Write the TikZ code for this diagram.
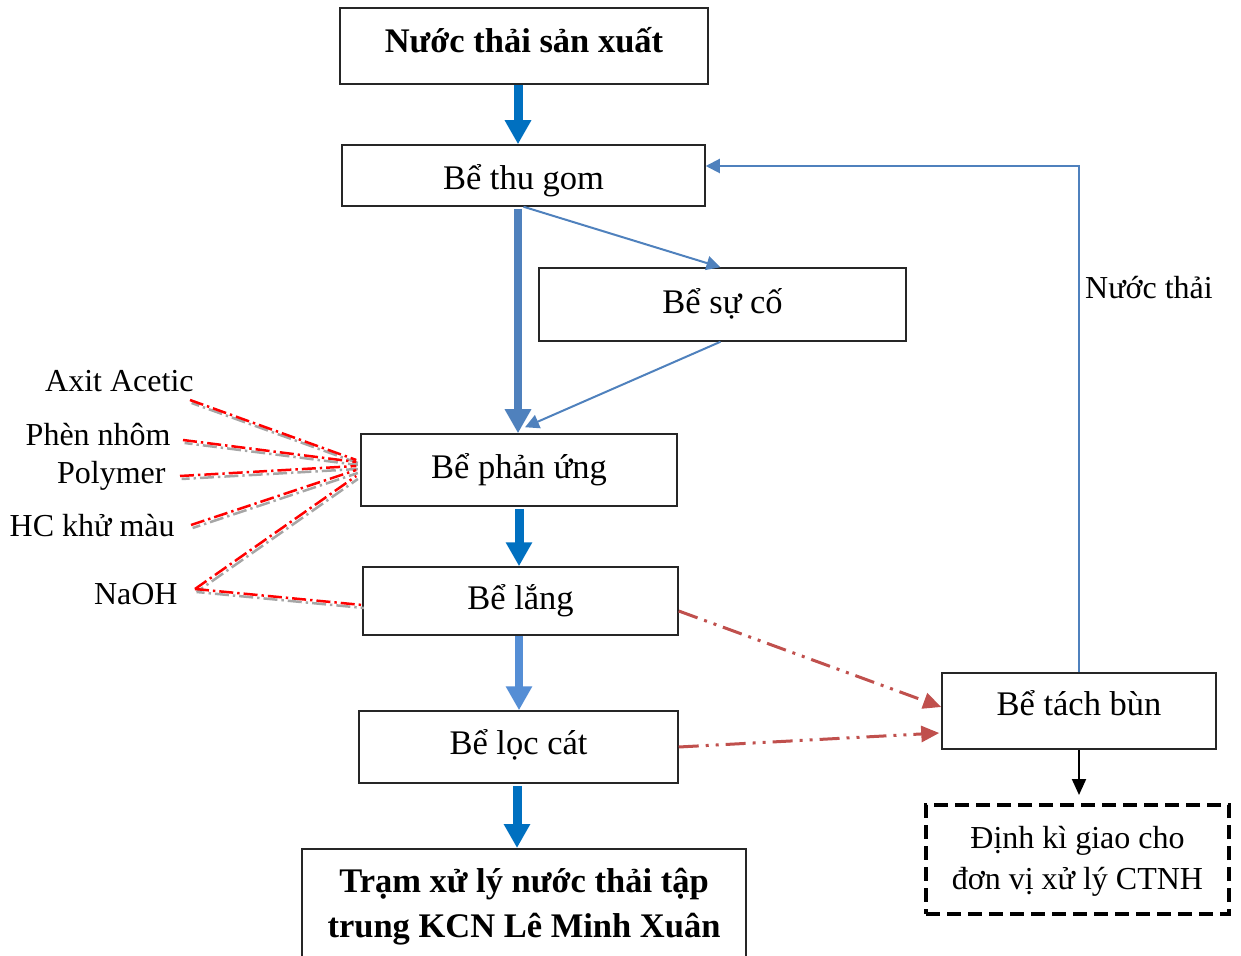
\documentclass[tikz,border=0pt]{standalone}
\usepackage{fontspec}
\setmainfont{Liberation Serif}
\usetikzlibrary{arrows.meta}
\definecolor{darkblue}{HTML}{0070C0}
\definecolor{steel}{HTML}{4F81BD}
\definecolor{lightsteel}{HTML}{558ED5}
\definecolor{redbrown}{HTML}{C0504D}
\definecolor{chemred}{HTML}{FF0000}
\definecolor{chemgray}{HTML}{A6A6A6}
\newcommand{\mvtext}[2]{\raisebox{#1}[\height][\depth]{#2}}
\begin{document}
\begin{tikzpicture}[x=0.5pt,y=-0.5pt,
  box/.style={draw=black!85, line width=0.75pt, rectangle, inner sep=2pt, align=center,
    font=\fontsize{17.25}{20}\selectfont},
  lbl/.style={inner sep=0pt, font=\fontsize{16}{19}\selectfont},
  bigarrow/.style={line width=4.5pt, -{Triangle[width=12.5pt,length=12pt]}},
  thinarrow/.style={steel, line width=1pt, -{Triangle[width=7pt,length=7pt]}},
  chemline/.style={chemred, line width=1.25pt, dash pattern=on 7pt off 2pt on 1.2pt off 2pt},
  chemshadow/.style={chemgray, line width=1.25pt, dash pattern=on 7pt off 2pt on 1.2pt off 2pt,
    dash phase=3pt, transform canvas={xshift=0.8pt,yshift=-1.5pt}},
  sludge/.style={redbrown, line width=1.5pt,
    dash pattern=on 10pt off 3.5pt on 1.5pt off 3.5pt on 1.5pt off 3.5pt,
    -{Triangle[width=8pt,length=9pt]}},
]
\useasboundingbox (0,0) rectangle (1241,956);
\clip (0,0) rectangle (1241,956);

% boxes
\node[box, minimum width=184pt, minimum height=38pt,
  font=\fontsize{17.25}{20}\selectfont\bfseries] (n1) at (524,46) {\mvtext{3pt}{Nước thải sản xuất}};
\node[box, minimum width=181.5pt, minimum height=30.5pt] (n2) at (523.5,175.5) {\mvtext{-2.5pt}{Bể thu gom}};
\node[box, minimum width=183.5pt, minimum height=36.5pt] (n3) at (722.5,304.5) {\mvtext{0.5pt}{Bể sự cố}};
\node[box, minimum width=158pt, minimum height=36pt] (n4) at (519,470) {Bể phản ứng};
\node[box, minimum width=157.5pt, minimum height=34pt] (n5) at (520.5,601) {Bể lắng};
\node[box, minimum width=159.5pt, minimum height=36pt] (n6) at (518.5,747) {\mvtext{1pt}{Bể lọc cát}};
\node[box, minimum width=222pt, minimum height=80pt, anchor=north] (n7) at (524,848) {};
\node[align=center, inner sep=0pt, font=\fontsize{17.25}{22.5}\selectfont\bfseries] (t7) at (524,907)
  {Trạm xử lý nước thải tập\\trung KCN Lê Minh Xuân};
\node[box, minimum width=137pt, minimum height=38pt] (n8) at (1079,711) {\mvtext{4pt}{Bể tách bùn}};
\node[box, minimum width=151.5pt, minimum height=54.5pt, line width=2pt, draw=black,
  dash pattern=on 7pt off 3.5pt, font=\fontsize{16}{20.5}\selectfont] (n9) at (1077.5,859.5)
  {\mvtext{-1pt}{Định kì giao cho}\\\mvtext{-1pt}{đơn vị xử lý CTNH}};

% main flow
\draw[bigarrow, darkblue] ([xshift=-3pt]n1.south) -- ([xshift=-2.75pt]n2.north);
\draw[bigarrow, steel, line width=4pt] ([xshift=-2.75pt,yshift=-1pt]n2.south) -- ([xshift=-0.5pt]n4.north);
\draw[thinarrow] (n2.south) -- ([xshift=-1pt]n3.north);
\draw[thinarrow] ([xshift=-1pt]n3.south) -- ([xshift=3pt,yshift=3pt]n4.north);
\draw[bigarrow, darkblue] ([yshift=-1pt]n4.south) -- ([xshift=-0.75pt]n5.north);
\draw[bigarrow, lightsteel, line width=4pt] ([xshift=-0.75pt]n5.south) -- ([xshift=0.25pt]n6.north);
\draw[bigarrow, darkblue] ([xshift=-0.75pt,yshift=-1pt]n6.south) -- ([xshift=-3.5pt]n7.north);

% return line
\draw[thinarrow] (n8.north) |- ([yshift=4.75pt]n2.east);
\node[lbl] (lw) at (1149,288) {Nước thải};

% sludge
\draw[sludge] ([yshift=-5pt]n5.east) -- ([yshift=2pt]n8.west);
\draw[sludge] (n6.east) -- ([xshift=-1pt,yshift=-11pt]n8.west);
\draw[black, line width=1pt, -{Triangle[width=7pt,length=8pt]}] (n8.south) -- ([yshift=4pt]n8.south |- n9.north);

% chemicals
\node[lbl, anchor=east] (ax) at (194,381) {Axit Acetic};
\node[lbl, anchor=east] (ph) at (171,435) {Phèn nhôm};
\node[lbl, anchor=east] (po) at (166,476) {Polymer};
\node[lbl, anchor=east] (hc) at (175,526) {HC khử màu};
\node[lbl, anchor=east] (na) at (178,594) {NaOH};
\coordinate (cax) at (190,400);
\coordinate (cph) at (183,440);
\coordinate (cpo) at (180,476);
\coordinate (chc) at (191,525);
\coordinate (cna) at (195,589);

\foreach \s in {chemshadow,chemline}{
  \draw[\s] (cax) -- ([xshift=-2pt,yshift=5pt]n4.west);
  \draw[\s] (cph) -- ([xshift=-2pt,yshift=4pt]n4.west);
  \draw[\s] (cpo) -- ([xshift=-2pt,yshift=2pt]n4.west);
  \draw[\s] (chc) -- ([xshift=-2pt,yshift=0pt]n4.west);
  \draw[\s] (cna) -- ([xshift=-2pt,yshift=-3pt]n4.west);
  \draw[\s] (cna) -- ([yshift=-2pt]n5.west);
}
\end{tikzpicture}
\end{document}
